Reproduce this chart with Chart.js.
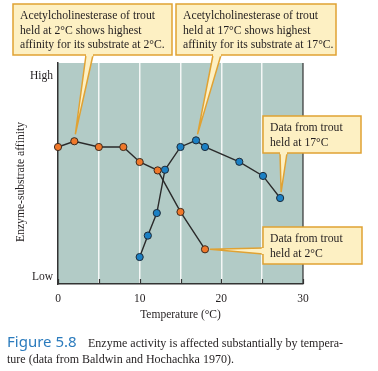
<!DOCTYPE html>
<html>
<head>
<meta charset="utf-8">
<script src="https://cdn.jsdelivr.net/npm/chart.js@4"></script>
<style>
  html, body { margin: 0; padding: 0; background: #fff; }
  #wrap { width: 378px; height: 371px; }
</style>
</head>
<body>
<div id="wrap"><canvas id="enzymeChart"></canvas></div>
<script>
// values (affinity on an arbitrary 0-100 scale)
const orangeTemp = [0, 2, 5, 8, 10, 12.2, 15, 18];
const orangeAffinity = [62, 64.6, 62, 62, 55.2, 51.4, 32.6, 15.7];
const blueTemp = [10, 11, 12.1, 13.1, 15, 16.9, 18, 22.2, 25.1, 27.2];
const blueAffinity = [12.2, 21.9, 32.1, 51.7, 62, 65, 62, 55.3, 48.9, 38.9];
const yTickValues = [3.2, 94];
const yTickLabels = ['Low', 'High'];

const SERIF = '"Liberation Serif", "Times New Roman", serif';
const BOX_FILL = '#fdf0c3';
const BOX_EDGE = '#e0a233';

function toPoints(xs, ys) {
    return xs.map((x, i) => ({ x: x, y: ys[i] }));
}

// callout boxes: box rect, text lines, where the pointer leaves the box, and which point it aims at
const callouts = [
    { box: [13, 4, 159, 51], lines: ['Acetylcholinesterase of trout', 'held at 2\u00b0C shows highest', 'affinity for its substrate at 2\u00b0C.'],
      base: [[86, 55], [93, 55]], ds: 0, idx: 1, off: [1, -7] },
    { box: [176, 4, 160, 51], lines: ['Acetylcholinesterase of trout', 'held at 17\u00b0C shows highest', 'affinity for its substrate at 17\u00b0C.'],
      base: [[213, 55], [221, 55]], ds: 1, idx: 5, off: [1.5, -6] },
    { box: [263, 116, 98, 37], lines: ['Data from trout', 'held at 17\u00b0C'],
      base: [[280, 153], [287, 153]], ds: 1, idx: 9, off: [1, -6] },
    { box: [263, 227, 99, 37], lines: ['Data from trout', 'held at 2\u00b0C'],
      base: [[263, 248], [263, 254]], ds: 0, idx: 7, off: [5, 0] }
];

const decor = {
    id: 'decor',
    beforeDraw(chart) {
        const { ctx, chartArea: a } = chart;
        ctx.save();
        ctx.fillStyle = '#b2cbc6';
        ctx.fillRect(a.left, a.top, a.right - a.left, a.bottom - a.top);
        ctx.restore();
    },
    beforeDatasetsDraw(chart) {
        const { ctx, chartArea: a } = chart;
        const xs = chart.scales.x;
        ctx.save();
        // short inward ticks on the bottom axis
        ctx.strokeStyle = '#333';
        ctx.lineWidth = 1.2;
        xs.ticks.forEach(t => {
            const px = Math.round(xs.getPixelForValue(t.value)) + 0.5;
            ctx.beginPath();
            ctx.moveTo(px, a.bottom);
            ctx.lineTo(px, a.bottom - 5);
            ctx.stroke();
        });
        // right frame line
        ctx.beginPath();
        ctx.moveTo(a.right, a.top);
        ctx.lineTo(a.right, a.bottom);
        ctx.stroke();
        ctx.restore();
    },
    afterDraw(chart) {
        const { ctx } = chart;
        ctx.save();
        callouts.forEach(c => {
            const pt = chart.getDatasetMeta(c.ds).data[c.idx];
            const tip = [pt.x + c.off[0], pt.y + c.off[1]];
            const [bx, by, bw, bh] = c.box;
            ctx.fillStyle = BOX_FILL;
            ctx.strokeStyle = BOX_EDGE;
            ctx.lineWidth = 1.5;
            ctx.fillRect(bx, by, bw, bh);
            ctx.strokeRect(bx, by, bw, bh);
            // pointer
            ctx.beginPath();
            ctx.moveTo(c.base[0][0], c.base[0][1]);
            ctx.lineTo(tip[0], tip[1]);
            ctx.lineTo(c.base[1][0], c.base[1][1]);
            ctx.closePath();
            ctx.fill();
            ctx.beginPath();
            ctx.moveTo(c.base[0][0], c.base[0][1]);
            ctx.lineTo(tip[0], tip[1]);
            ctx.lineTo(c.base[1][0], c.base[1][1]);
            ctx.stroke();
            // cover the box edge where the pointer joins
            ctx.beginPath();
            ctx.moveTo(c.base[0][0], c.base[0][1]);
            ctx.lineTo(c.base[1][0], c.base[1][1]);
            ctx.lineWidth = 2.5;
            ctx.strokeStyle = BOX_FILL;
            ctx.stroke();
            ctx.fillStyle = '#231f20';
            ctx.font = '11.7px ' + SERIF;
            ctx.textBaseline = 'middle';
            ctx.textAlign = 'left';
            c.lines.forEach((ln, i) => ctx.fillText(ln, bx + 7, by + 12 + i * 14.6));
        });

        // y axis title
        ctx.save();
        ctx.translate(21, 182);
        ctx.rotate(-Math.PI / 2);
        ctx.fillStyle = '#231f20';
        ctx.font = '11.6px ' + SERIF;
        ctx.textAlign = 'center';
        ctx.textBaseline = 'middle';
        ctx.fillText('Enzyme-substrate affinity', 0, 0);
        ctx.restore();

        // figure caption
        ctx.textBaseline = 'alphabetic';
        ctx.fillStyle = '#2b7bbd';
        ctx.font = '15px "Noto Sans", sans-serif';
        ctx.fillText('Figure 5.8', 7, 347);
        ctx.fillStyle = '#231f20';
        ctx.font = '12px ' + SERIF;
        ctx.fillText('Enzyme activity is affected substantially by tempera-', 88, 347);
        ctx.fillText('ture (data from Baldwin and Hochachka 1970).', 7, 363);
        ctx.restore();
    }
};

new Chart(document.getElementById('enzymeChart'), {
    type: 'scatter',
    data: {
        datasets: [
            {
                label: 'Trout held at 2\u00b0C',
                data: toPoints(orangeTemp, orangeAffinity),
                showLine: true,
                borderColor: '#2a2a2a',
                borderWidth: 1.4,
                pointBackgroundColor: '#f0782a',
                pointBorderColor: '#3a2a20',
                pointBorderWidth: 1,
                pointRadius: 3.6,
                clip: false
            },
            {
                label: 'Trout held at 17\u00b0C',
                data: toPoints(blueTemp, blueAffinity),
                showLine: true,
                borderColor: '#2a2a2a',
                borderWidth: 1.4,
                pointBackgroundColor: '#1b80c4',
                pointBorderColor: '#1d2a38',
                pointBorderWidth: 1,
                pointRadius: 3.6,
                clip: false
            }
        ]
    },
    options: {
        responsive: true,
        maintainAspectRatio: false,
        animation: false,
        layout: { padding: { top: 63, right: 75, bottom: 49, left: 0 } },
        plugins: {
            legend: { display: false },
            tooltip: { enabled: false }
        },
        scales: {
            x: {
                type: 'linear',
                min: 0,
                max: 30,
                afterFit(scale) { scale.height = 38; },
                ticks: {
                    stepSize: 5,
                    maxRotation: 0,
                    padding: 8,
                    color: '#231f20',
                    font: { family: SERIF, size: 11.5 },
                    callback: v => (v % 10 === 0 ? v : '')
                },
                grid: {
                    drawTicks: false,
                    lineWidth: 1.5,
                    color: c => (c.tick && (c.tick.value === 0 || c.tick.value === 30) ? 'rgba(0,0,0,0)' : '#f4f7f6')
                },
                border: { display: true, color: '#333', width: 1.5 },
                title: {
                    display: true,
                    text: 'Temperature (\u00b0C)',
                    color: '#231f20',
                    font: { family: SERIF, size: 11.5 },
                    padding: { top: 0, bottom: 0 }
                }
            },
            y: {
                type: 'linear',
                min: 0,
                max: 100,
                afterFit(scale) { scale.width = 58; },
                afterBuildTicks(scale) { scale.ticks = yTickValues.map(v => ({ value: v })); },
                ticks: {
                    padding: 5,
                    color: '#231f20',
                    font: { family: SERIF, size: 11.5 },
                    callback: (v, i) => yTickLabels[i]
                },
                grid: { display: false, drawTicks: false },
                border: { display: true, color: '#333', width: 1.5 }
            }
        }
    },
    plugins: [decor]
});
</script>
</body>
</html>
